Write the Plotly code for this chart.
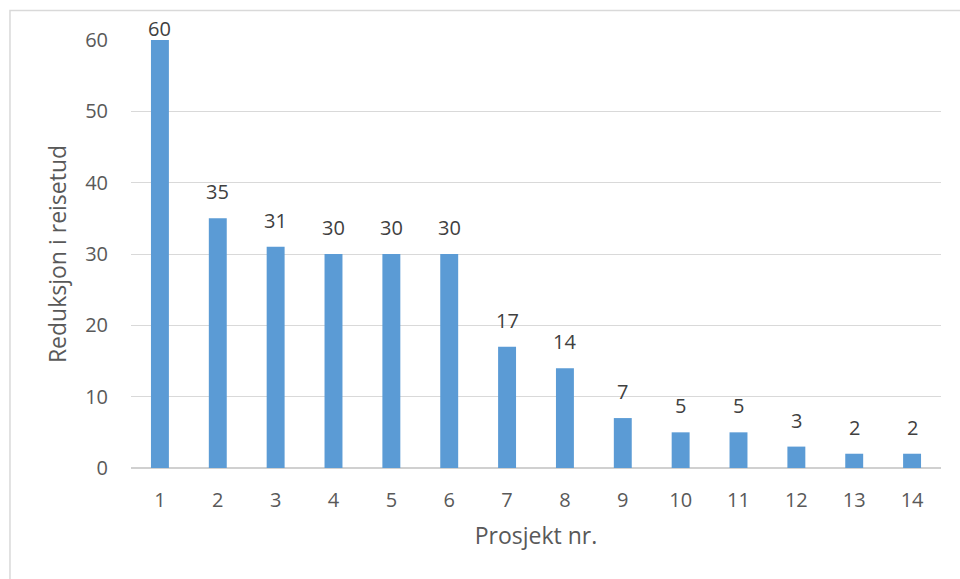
import plotly.graph_objects as go

# Project numbers and travel-time reduction per project
projects = ["1", "2", "3", "4", "5", "6", "7", "8", "9", "10", "11", "12", "13", "14"]
reduction = [60, 35, 31, 30, 30, 30, 17, 14, 7, 5, 5, 3, 2, 2]
y_ticks = [0, 10, 20, 30, 40, 50, 60]

FONT = "'Open Sans', Lato, sans-serif"
TEXT_COLOR = "#595959"
GRID = "#D9D9D9"
BAR = "#5B9BD5"

fig = go.Figure()
fig.add_trace(go.Bar(
    x=projects,
    y=reduction,
    marker=dict(color=BAR, line=dict(width=0)),
    width=0.31,
    hoverinfo="x+y",
))

# Value labels above each bar (the top one is kept inside the frame)
for i, v in enumerate(reduction):
    fig.add_annotation(
        x=i, y=v, text=str(v), showarrow=False,
        yanchor="bottom", yshift=(-4 if v >= 60 else 11),
        font=dict(family=FONT, size=20, color="#404040"),
    )

fig.update_layout(
    width=960, height=579,
    margin=dict(l=131, r=19, t=39.5, b=111),
    paper_bgcolor="white", plot_bgcolor="white",
    showlegend=False,
    font=dict(family=FONT, size=20, color=TEXT_COLOR),
    xaxis=dict(
        type="category",
        showgrid=False, showline=False, zeroline=False,
        ticks="outside", ticklen=14, tickcolor="rgba(0,0,0,0)",
        tickfont=dict(family=FONT, size=20, color=TEXT_COLOR),
        title=dict(text="Prosjekt nr.", standoff=15,
                   font=dict(family=FONT, size=23, color=TEXT_COLOR)),
    ),
    yaxis=dict(
        range=[0, 60], tickvals=y_ticks,
        showgrid=True, gridcolor=GRID, gridwidth=1,
        zeroline=True, zerolinecolor="#D0D0D0", zerolinewidth=2,
        showline=False,
        ticks="outside", ticklen=18, tickcolor="rgba(0,0,0,0)",
        tickfont=dict(family=FONT, size=20, color=TEXT_COLOR),
        title=dict(text="Reduksjon i reisetud", standoff=12,
                   font=dict(family=FONT, size=23, color=TEXT_COLOR)),
    ),
    shapes=[dict(
        type="rect", xref="paper", yref="paper",
        x0=-0.1494, x1=1.1, y0=-0.5, y1=1.0689,
        line=dict(color="#D9D9D9", width=1.5), fillcolor="rgba(0,0,0,0)",
        layer="below",
    )],
)

fig.write_html("out.html")
